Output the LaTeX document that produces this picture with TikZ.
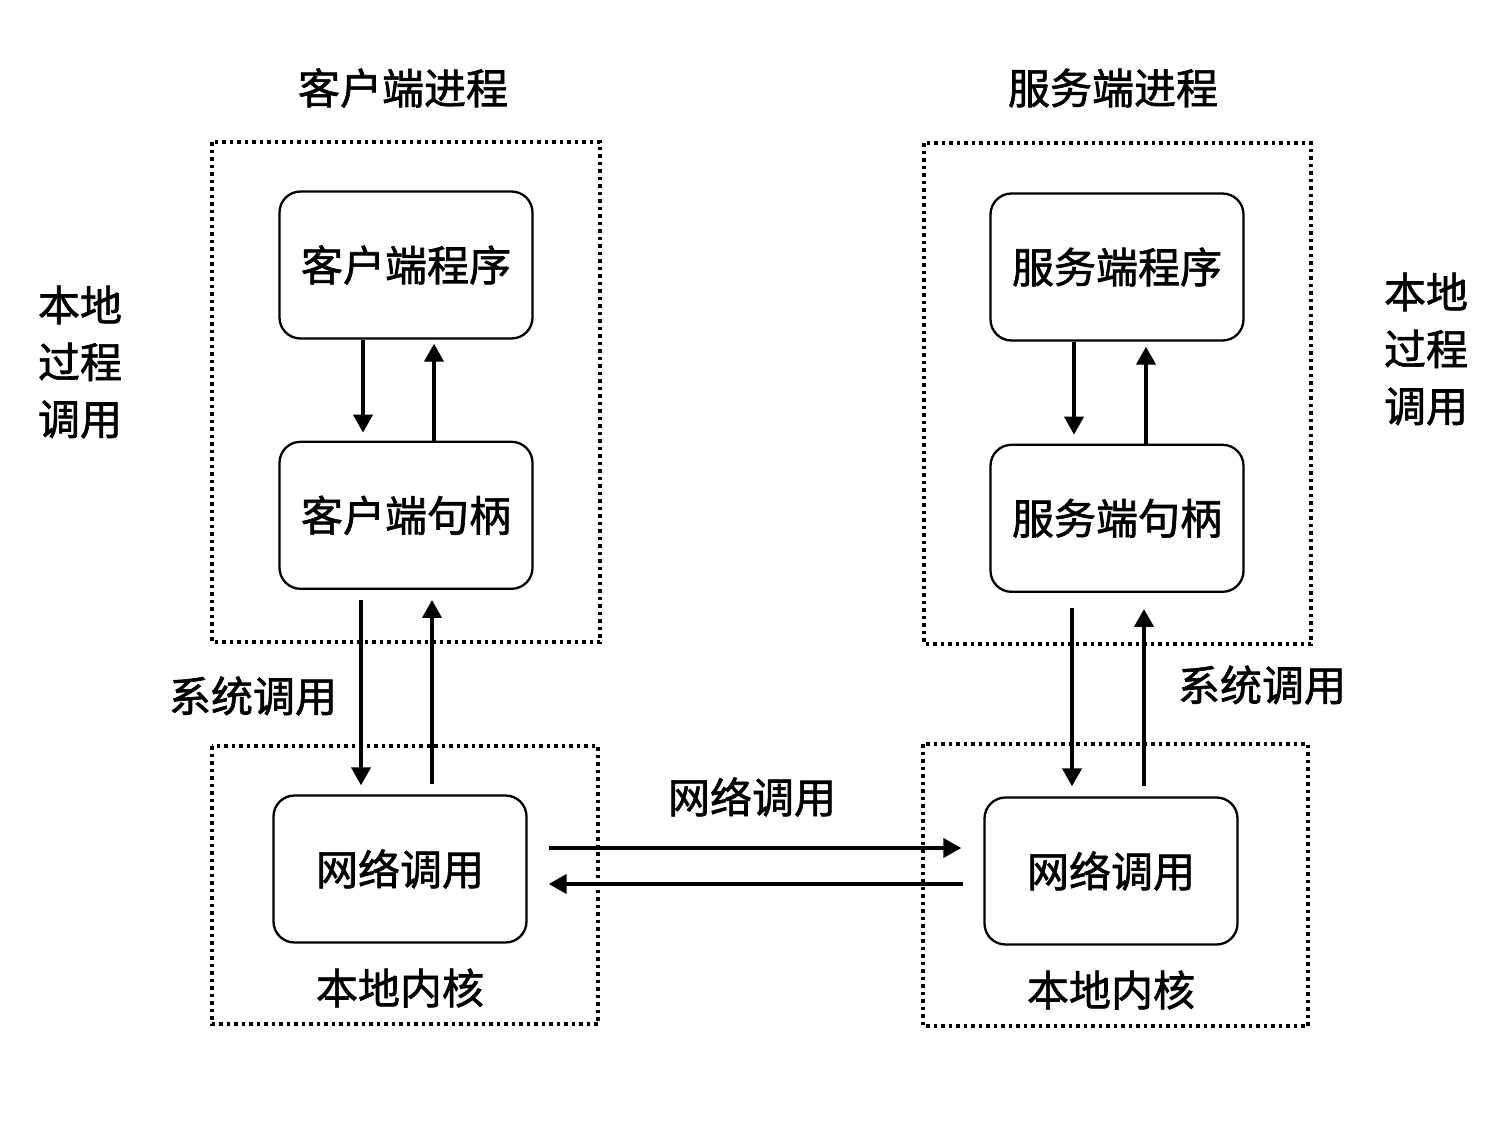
\documentclass[tikz,border=0pt]{standalone}
\usepackage{fontspec}
\setmainfont{Noto Sans CJK SC}[FakeBold=1.5]
\usetikzlibrary{%
    arrows.meta,%
    positioning,%
    calc%
}
\tikzset{
    block/.style = {draw, rectangle, rounded corners = 21pt, line width = 2.3pt,
    minimum width = 253pt, minimum height = 147pt, font = \fontsize{42}{57}\selectfont},
    arr/.style = {-{Triangle[length=18pt,width=19pt]}, line width = 4pt},
    dotbox/.style = {line width = 3.5pt, dash pattern = on 3.5pt off 4pt},
    lbl/.style = {align = center, inner sep = 0pt, font = \fontsize{42}{57}\selectfont}
}

\begin{document}
\begin{tikzpicture}[x=1pt, y=-1pt]
    \useasboundingbox (0,0) rectangle (1512,1124);
    % process and kernel frames
    \draw[dotbox] (212,142) rectangle (600,642);
    \draw[dotbox] (212,746) rectangle (598,1024);
    \draw[dotbox] (924,143) rectangle (1311,644);
    \draw[dotbox] (923,744) rectangle (1308,1026);

    \node (cprog) [block] at (406,265) {客户端程序};
    \node[below = 101pt of cprog] (chandle) [block] {客户端句柄};
    \node (cnet) [block] at (400,869) {网络调用};
    \node (sprog) [block] at (1117,267) {服务端程序};
    \node[below = 102pt of sprog] (shandle) [block] {服务端句柄};
    \node (snet) [block] at (1111,871) {网络调用};

    \node[lbl] (ctitle) at (403,88) {客户端进程};
    \node[lbl] (stitle) at (1113,88) {服务端进程};
    \node[lbl] (clocal) at (80,362) {本地\\过程\\调用};
    \node[lbl] (slocal) at (1426,349) {本地\\过程\\调用};
    \node[lbl] (csys) at (253,696) {系统调用};
    \node[lbl] (ssys) at (1262,685) {系统调用};
    \node[lbl] (net) at (752,797) {网络调用};
    \node[lbl] (ckern) at (400,988) {本地内核};
    \node[lbl] (skern) at (1111,990) {本地内核};

    % client side
    \draw[arr] ([xshift=-43pt]cprog.south) -- ([xshift=-43pt,yshift=8pt]chandle.north);
    \draw[arr] ([xshift=28pt]chandle.north) -- ([xshift=28pt,yshift=-4pt]cprog.south);
    \coordinate (c1) at ($(chandle.south)+(-45,10)$);
    \coordinate (c2) at ($(chandle.south)+(26,10)$);
    \draw[arr] (c1) -- ($(c1 |- cnet.north)+(0,-9)$);
    \draw[arr] ($(c2 |- cnet.north)+(0,-10)$) -- (c2);

    % server side
    \draw[arr] ([xshift=-43pt]sprog.south) -- ([xshift=-43pt,yshift=9pt]shandle.north);
    \draw[arr] ([xshift=29pt]shandle.north) -- ([xshift=29pt,yshift=-5pt]sprog.south);
    \coordinate (s1) at ($(shandle.south)+(-45,15)$);
    \coordinate (s2) at ($(shandle.south)+(27,16)$);
    \draw[arr] (s1) -- ($(s1 |- snet.north)+(0,-10)$);
    \draw[arr] ($(s2 |- snet.north)+(0,-10)$) -- (s2);

    % network
    \coordinate (r1) at ($(cnet.east)+(21,-21)$);
    \coordinate (r2) at ($(cnet.east)+(21,15)$);
    \draw[arr] (r1) -- ($(r1 -| snet.west)+(-22,0)$);
    \draw[arr] ($(r2 -| snet.west)+(-20,0)$) -- (r2);
\end{tikzpicture}
\end{document}
